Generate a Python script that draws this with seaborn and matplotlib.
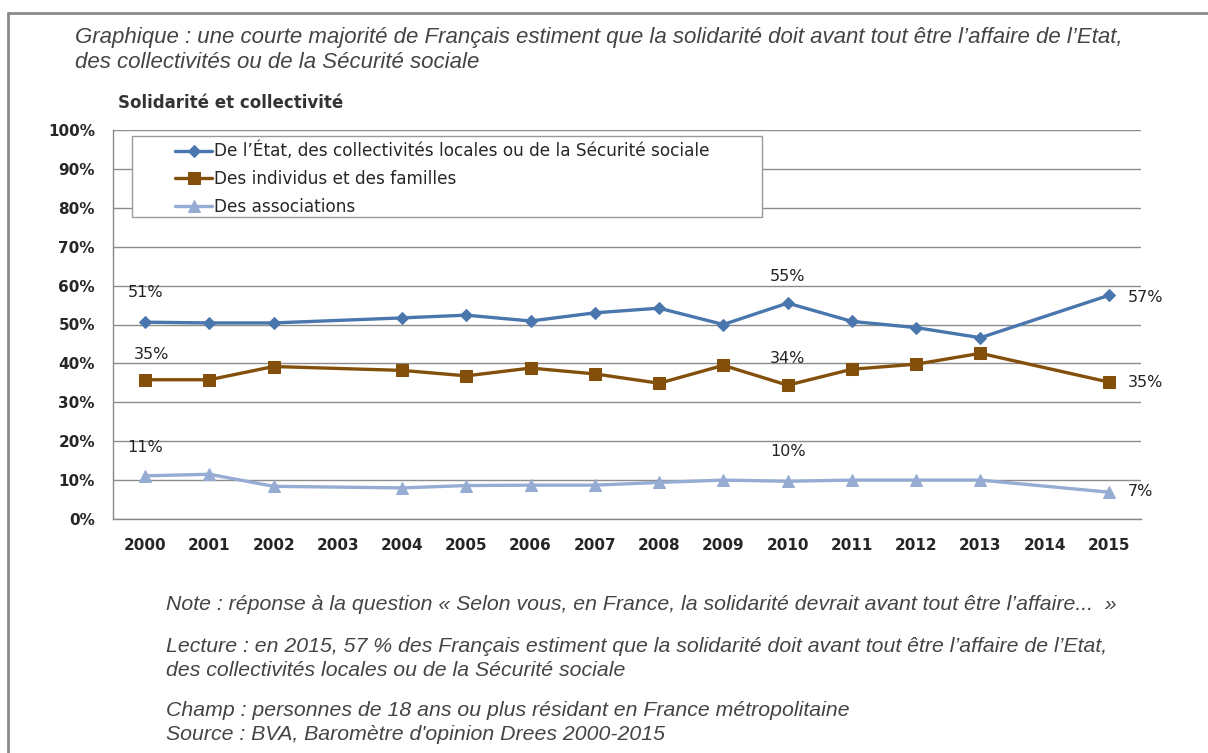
import numpy as np
import pandas as pd
import matplotlib.pyplot as plt
from matplotlib.patches import Rectangle
import seaborn as sns

years = list(range(2000, 2016))
# pas d'enquête en 2003 et 2014 : la ligne relie les points voisins
etat = [50.6, 50.4, 50.4, np.nan, 51.7, 52.4, 50.9, 53.0, 54.2, 50.0,
        55.5, 50.8, 49.2, 46.6, np.nan, 57.5]
individus = [35.8, 35.8, 39.2, np.nan, 38.2, 36.8, 38.8, 37.3, 34.9, 39.5,
             34.4, 38.5, 39.8, 42.6, np.nan, 35.2]
associations = [11.1, 11.5, 8.4, np.nan, 8.0, 8.6, 8.7, 8.7, 9.4, 10.0,
                9.7, 10.0, 10.0, 10.0, np.nan, 6.9]
series_names = ["De l\u2019État, des collectivités locales ou de la Sécurité sociale",
                "Des individus et des familles",
                "Des associations"]
labels = [(2000, 51, "51%"), (2000, 35, "35%"), (2000, 11, "11%"),
          (2010, 55, "55%"), (2010, 34, "34%"), (2010, 10, "10%"),
          (2015, 57, "57%"), (2015, 35, "35%"), (2015, 7, "7%")]
yticks = list(range(0, 101, 10))

df = pd.DataFrame({"annee": years, series_names[0]: etat,
                   series_names[1]: individus, series_names[2]: associations})
long = df.melt(id_vars="annee", var_name="serie", value_name="part").dropna()

sns.set_style("white")
plt.rcParams["font.family"] = ["DejaVu Sans"]

fig = plt.figure(figsize=(12.08, 7.53), dpi=100)
ax = fig.add_axes([113 / 1208, 1 - 519 / 753, 1028 / 1208, 389 / 753])

colors = ["#4a76ae", "#83500b", "#96acd3"]
markers = ["D", "s", "^"]
msizes = [6.5, 9, 9]
for name, c, m, ms in zip(series_names, colors, markers, msizes):
    sub = long[long["serie"] == name]
    sns.lineplot(data=sub, x="annee", y="part", color=c, marker=m,
                 markersize=ms, markeredgecolor=c, linewidth=2.4, ax=ax,
                 label=name, legend=False)

for x, y, t in labels:
    if x == 2015:
        ax.text(x + 0.3, y, t, fontsize=11.5, color="#222222",
                ha="left", va="center")
    else:
        dx = 0.1 if (x == 2000 and y == 35) else 0
        ax.text(x + dx, y + 7.3, t, fontsize=11.5, color="#222222",
                ha="center", va="center")

ax.set_xlim(1999.5, 2015.5)
ax.set_ylim(0, 100)
ax.set_yticks(yticks)
ax.set_yticklabels([f"{v}%" for v in yticks], fontsize=11, fontweight="bold")
ax.set_xticks(years)
ax.set_xticklabels([str(y) for y in years], fontsize=11, fontweight="bold")
ax.set_xticks(np.arange(1999.5, 2016, 1), minor=True)
ax.tick_params(axis="x", which="major", length=0, pad=14)
ax.tick_params(axis="x", which="minor", length=7, color="#888888", width=1)
ax.tick_params(axis="y", length=5, color="#888888", width=1, pad=8)
ax.yaxis.grid(True, color="#8c8c8c", linewidth=1)
ax.set_axisbelow(True)
ax.set_xlabel("")
ax.set_ylabel("")
for s in ["top", "right"]:
    ax.spines[s].set_visible(False)
for s in ["left", "bottom"]:
    ax.spines[s].set_color("#888888")
    ax.spines[s].set_linewidth(1)

# cadre de la légende
ax.add_patch(Rectangle((19 / 1028, (519 - 217) / 389), 630 / 1028, 81 / 389,
                       transform=ax.transAxes, facecolor="white",
                       edgecolor="#9a9a9a", linewidth=1, zorder=5))
handles, lbls = ax.get_legend_handles_labels()
leg = ax.legend(handles, lbls, loc="upper left",
                bbox_to_anchor=(62 / 1028, (519 - 142) / 389), frameon=False,
                fontsize=12.2, handlelength=2.2, handletextpad=0.1,
                labelspacing=0.58, borderaxespad=0, borderpad=0)
leg.set_zorder(6)

fig.text(118 / 1208, 1 - 103 / 753, "Solidarité et collectivité",
         fontsize=12, fontweight="bold", color="#333333", va="center")

fig.text(75 / 1208, 1 - 38 / 753,
         "Graphique : une courte majorité de Français estiment que la solidarité doit avant tout être l\u2019affaire de l\u2019Etat,",
         family="Liberation Sans", style="italic", fontsize=16, color="#444444", va="center")
fig.text(75 / 1208, 1 - 62 / 753, "des collectivités ou de la Sécurité sociale",
         family="Liberation Sans", style="italic", fontsize=16, color="#444444", va="center")

notes = [(605, "Note : réponse à la question « Selon vous, en France, la solidarité devrait avant tout être l\u2019affaire...  »"),
         (646, "Lecture : en 2015, 57 % des Français estiment que la solidarité doit avant tout être l\u2019affaire de l\u2019Etat,"),
         (670, "des collectivités locales ou de la Sécurité sociale"),
         (711, "Champ : personnes de 18 ans ou plus résidant en France métropolitaine"),
         (735, "Source : BVA, Baromètre d'opinion Drees 2000-2015")]
for yy, t in notes:
    fig.text(166 / 1208, 1 - yy / 753, t, family="Liberation Sans", style="italic",
             fontsize=15.3, color="#444444", va="center")

# cadre gris de la page
fig.add_artist(plt.Line2D([8 / 1208, 8 / 1208], [0, 1 - 13 / 753],
                          transform=fig.transFigure, color="#8a8a8a", linewidth=2))
fig.add_artist(plt.Line2D([8 / 1208, 1], [1 - 13 / 753, 1 - 13 / 753],
                          transform=fig.transFigure, color="#8a8a8a", linewidth=2))

fig.savefig("out.png", dpi=100)
